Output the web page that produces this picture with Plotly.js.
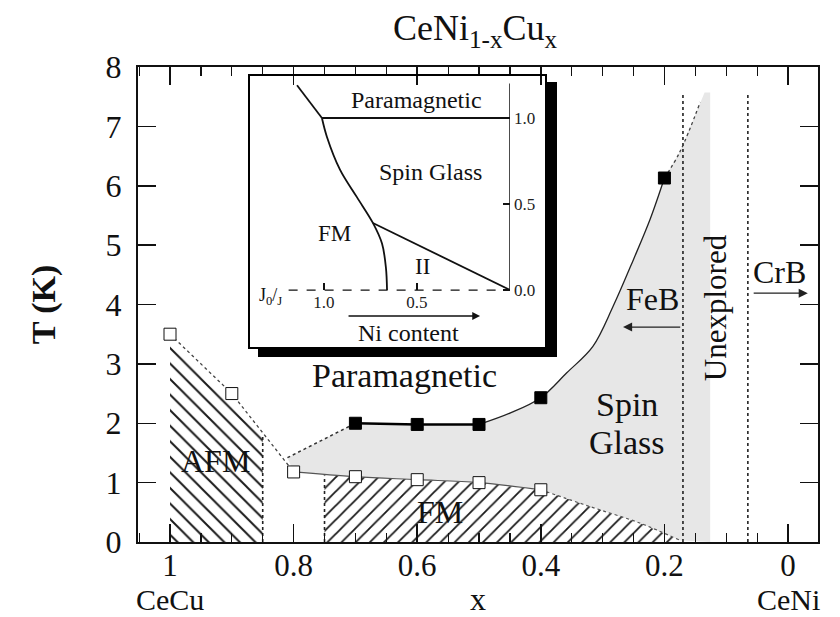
<!DOCTYPE html>
<html>
<head>
<meta charset="utf-8">
<script src="https://cdn.plot.ly/plotly-3.0.1.min.js"></script>
<style>html,body{margin:0;padding:0;background:#fff;}#chart{width:840px;height:617px;}</style>
</head>
<body>
<div id="chart"></div>
<script>
// ---------- main phase diagram data (x = Cu content, T in K) ----------
const openX   = [1.0, 0.9, 0.8, 0.7, 0.6, 0.5, 0.4];
const openT   = [3.5, 2.5, 1.18, 1.1, 1.05, 1.0, 0.88];
const filledX = [0.7, 0.6, 0.5, 0.4, 0.2];
const filledT = [2.0, 1.98, 1.98, 2.43, 6.13];

// spin-glass / paramagnetic boundary
const sgSolidX = [0.7, 0.6, 0.5];
const sgSolidT = [2.0, 1.98, 1.98];
const sgCurveX = [0.5, 0.45, 0.4, 0.358, 0.316, 0.283, 0.25, 0.223, 0.2];
const sgCurveT = [1.98, 2.17, 2.43, 2.85, 3.29, 3.97, 4.76, 5.44, 6.13];
const sgExtX   = [0.2, 0.175, 0.142];
const sgExtT   = [6.13, 6.57, 7.41];
const sgLeftX  = [0.81, 0.7];
const sgLeftT  = [1.42, 2.0];

// AFM / FM boundaries
const afmLineX = [1.0, 0.9, 0.8];
const afmLineT = [3.5, 2.5, 1.18];
const fmLineX  = [0.8, 0.7, 0.6, 0.5, 0.4];
const fmLineT  = [1.18, 1.1, 1.05, 1.0, 0.88];
const fmExtX   = [0.4, 0.35, 0.304, 0.24, 0.175];
const fmExtT   = [0.88, 0.7, 0.54, 0.32, 0.03];

// regions
const grayX = [0.81, 0.7, 0.6, 0.5, 0.45, 0.4, 0.358, 0.316, 0.283, 0.25, 0.223, 0.2, 0.175, 0.142, 0.135, 0.126, 0.126, 0.175, 0.24, 0.304, 0.35, 0.4, 0.5, 0.6, 0.7, 0.8, 0.81];
const grayT = [1.42, 2.0, 1.98, 1.98, 2.17, 2.43, 2.85, 3.29, 3.97, 4.76, 5.44, 6.13, 6.57, 7.41, 7.57, 7.57, 0, 0.03, 0.32, 0.54, 0.7, 0.88, 1.0, 1.05, 1.1, 1.18, 1.42];
const afmX = [1.0, 1.0, 0.9, 0.85, 0.85, 1.0];
const afmT = [0, 3.4, 2.42, 1.82, 0, 0];
const fmX  = [0.75, 0.75, 0.7, 0.6, 0.5, 0.4, 0.35, 0.304, 0.24, 0.175, 0.175, 0.75];
const fmT  = [0, 1.12, 1.1, 1.05, 1.0, 0.88, 0.7, 0.54, 0.32, 0.03, 0, 0];

// dotted vertical dividers
const dividerX   = [0.85, 0.75, 0.17, 0.065];
const dividerTop = [1.82, 1.12, 7.55, 7.55];

// x tick labels
const xTickVals = [1, 0.8, 0.6, 0.4, 0.2, 0];
const xTickText = ['1', '0.8', '0.6', '0.4', '0.2', '0'];

// ---------- inset data (J0/J vs T/J) ----------
const inTopX   = [1.145, 1.011];
const inTopT   = [1.19, 1.0];
const inFmX    = [1.011, 0.984, 0.914, 0.823, 0.737, 0.688, 0.667, 0.661];
const inFmT    = [1.0, 0.89, 0.70, 0.54, 0.39, 0.27, 0.13, 0.0];
const inParaX  = [1.011, 0];
const inParaT  = [1.0, 1.0];
const inIIX    = [0.737, 0];
const inIIT    = [0.39, 0];
const inAxisX  = [0, 0];
const inAxisT  = [0, 1.2];
const inBaseX  = [1.19, 0];
const inBaseT  = [0, 0];
const inYTicks = [0, 0.5, 1.0];
const inYText  = ['0.0', '0.5', '1.0'];
const inXTicks = [1.0, 0.5];
const inXText  = ['1.0', '0.5'];

const FONT = "Liberation Serif, Times New Roman, serif";

const traces = [];
traces.push({x: grayX, y: grayT, mode: 'lines', fill: 'toself', fillcolor: '#e7e7e7',
  line: {width: 0, color: 'rgba(0,0,0,0)'}, hoverinfo: 'skip', showlegend: false});
traces.push({x: afmX, y: afmT, mode: 'lines', fill: 'toself', fillcolor: 'white',
  fillpattern: {shape: '\\', size: 11, solidity: 0.18, fgcolor: '#1a1a1a', bgcolor: 'white'},
  line: {width: 0, color: 'rgba(0,0,0,0)'}, hoverinfo: 'skip', showlegend: false});
traces.push({x: fmX, y: fmT, mode: 'lines', fill: 'toself', fillcolor: 'white',
  fillpattern: {shape: '/', size: 10, solidity: 0.18, fgcolor: '#1a1a1a', bgcolor: 'white'},
  line: {width: 0, color: 'rgba(0,0,0,0)'}, hoverinfo: 'skip', showlegend: false});
dividerX.forEach((xv, i) => {
  traces.push({x: [xv, xv], y: [0, dividerTop[i]], mode: 'lines',
    line: {color: '#222', width: 1.6, dash: 'dot'}, hoverinfo: 'skip', showlegend: false});
});
function line(x, y, w, dash, col, shape) {
  traces.push({x: x, y: y, mode: 'lines', line: {color: col || '#111', width: w, dash: dash || 'solid', shape: shape || 'linear'},
    hoverinfo: 'skip', showlegend: false});
}
line(sgLeftX, sgLeftT, 1.5, 'dot', '#333');
line(sgSolidX, sgSolidT, 2.6, 'solid', '#000');
line(sgCurveX, sgCurveT, 1.3, 'solid', '#222', 'spline');
line(sgExtX, sgExtT, 1.3, 'dot', '#444', 'spline');
line(afmLineX, afmLineT, 1.3, 'dot', '#444');
line(fmLineX, fmLineT, 1.2, 'solid', '#555', 'spline');
line(fmExtX, fmExtT, 1.2, 'dot', '#555', 'spline');
traces.push({x: openX, y: openT, mode: 'markers', marker: {symbol: 'square', size: 12, color: 'white', line: {color: '#111', width: 1}},
  hoverinfo: 'skip', showlegend: false});
traces.push({x: filledX, y: filledT, mode: 'markers', marker: {symbol: 'square', size: 12, color: '#000', line: {color: '#000', width: 1}},
  hoverinfo: 'skip', showlegend: false});

// inset traces
function iline(x, y, w, dash, shape) {
  traces.push({x: x, y: y, xaxis: 'x2', yaxis: 'y2', mode: 'lines',
    line: {color: '#111', width: w, dash: dash || 'solid', shape: shape || 'linear'}, hoverinfo: 'skip', showlegend: false});
}
iline(inBaseX, inBaseT, 1.2, 'dash');
iline(inAxisX, inAxisT, 1.5);
iline(inTopX, inTopT, 1.8);
iline(inFmX, inFmT, 1.8, 'solid', 'spline');
iline(inParaX, inParaT, 1.8);
iline(inIIX, inIIT, 1.8);

const px = v => (v - 138) / 680;
const py = v => (542 - v) / 475;

const ann = [];
function txt(text, x, y, size, extra) {
  ann.push(Object.assign({text: text, x: x, y: y, xref: 'x', yref: 'y', showarrow: false,
    font: {family: FONT, size: size, color: '#111'}, xanchor: 'center', yanchor: 'middle'}, extra || {}));
}
txt('Paramagnetic', 0.62, 2.8, 34);
txt('Spin', 0.26, 2.31, 34);
txt('Glass', 0.26, 1.68, 34);
txt('AFM', 0.927, 1.36, 32);
txt('FM', 0.563, 0.5, 32);
txt('FeB', 0.22, 4.1, 32);
txt('CrB', 0.013, 4.55, 32);
txt('Unexplored', 0.118, 3.94, 31, {textangle: -90});
txt('CeCu', 1.0, -0.121, 30, {yref: 'paper'});
txt('CeNi', 0.0, -0.121, 30, {yref: 'paper'});
// arrows
ann.push({x: 0.267, y: 3.62, ax: 0.172, ay: 3.62, xref: 'x', yref: 'y', axref: 'x', ayref: 'y', text: '',
  showarrow: true, arrowhead: 2, arrowsize: 1.4, arrowwidth: 1.3, arrowcolor: '#222'});
ann.push({x: -0.032, y: 4.19, ax: 0.058, ay: 4.19, xref: 'x', yref: 'y', axref: 'x', ayref: 'y', text: '',
  showarrow: true, arrowhead: 2, arrowsize: 1.4, arrowwidth: 1.3, arrowcolor: '#222'});
// inset texts
function itxt(text, x, y, size) {
  ann.push({text: text, x: x, y: y, xref: 'x2', yref: 'y2', showarrow: false,
    font: {family: FONT, size: size, color: '#111'}, xanchor: 'center', yanchor: 'middle'});
}
itxt('Paramagnetic', 0.5, 1.105, 24);
itxt('Spin Glass', 0.43, 0.686, 24);
itxt('FM', 0.946, 0.331, 23);
itxt('II', 0.473, 0.134, 23);
itxt('Ni content', 0.548, -0.25, 24);
itxt('J<sub>0</sub>/<sub>J</sub>', 1.29, -0.04, 18);
itxt('T/<sub>J</sub>', -0.105, 0.756, 21);
ann.push({x: 0.161, y: -0.151, ax: 0.876, ay: -0.151, xref: 'x2', yref: 'y2', axref: 'x2', ayref: 'y2', text: '',
  showarrow: true, arrowhead: 2, arrowsize: 1.2, arrowwidth: 1.3, arrowcolor: '#111'});

const shapes = [
  {type: 'rect', xref: 'paper', yref: 'paper', x0: px(249), x1: px(546), y0: py(348), y1: py(75),
    line: {color: '#000', width: 2}, fillcolor: 'rgba(0,0,0,0)', layer: 'above'},
  {type: 'rect', xref: 'paper', yref: 'paper', x0: px(546), x1: px(557), y0: py(357), y1: py(82),
    line: {width: 0}, fillcolor: '#000', layer: 'above'},
  {type: 'rect', xref: 'paper', yref: 'paper', x0: px(258), x1: px(557), y0: py(357), y1: py(348),
    line: {width: 0}, fillcolor: '#000', layer: 'above'}
];

const layout = {
  width: 840, height: 617,
  margin: {l: 138, r: 22, t: 67, b: 75, pad: 0},
  paper_bgcolor: 'white', plot_bgcolor: 'rgba(0,0,0,0)',
  showlegend: false,
  font: {family: FONT, color: '#111'},
  title: {text: 'CeNi<sub>1-x</sub>Cu<sub>x</sub>', x: 0.5655, xanchor: 'center', y: 0.955, yanchor: 'middle',
    font: {family: FONT, size: 36, color: '#111'}},
  xaxis: {range: [1.0518, -0.0485], tickvals: xTickVals, ticktext: xTickText, ticks: 'inside', ticklen: 18, tickwidth: 1.5,
    tickcolor: '#111', minor: {dtick: 0.05, tick0: 0, ticks: 'inside', ticklen: 9, tickwidth: 1.2, tickcolor: '#111'},
    showline: true, linewidth: 2, linecolor: '#111', mirror: 'ticks', showgrid: false, zeroline: false,
    tickfont: {family: FONT, size: 31, color: '#111'}, ticklabelstandoff: -5,
    title: {text: 'x', font: {family: FONT, size: 32, color: '#111'}, standoff: 8}},
  yaxis: {range: [0, 8], dtick: 1, tick0: 0, ticks: 'inside', ticklen: 18, tickwidth: 1.5, tickcolor: '#111',
    showline: true, linewidth: 2, linecolor: '#111', mirror: 'ticks', showgrid: false, zeroline: false,
    tickfont: {family: FONT, size: 32, color: '#111'}, ticklabelstandoff: 8,
    title: {text: 'T (K)', font: {family: FONT, size: 34, color: '#111', weight: 'bold'}, standoff: 40}},
  xaxis2: {domain: [px(249), px(510)], range: [1.403, 0], anchor: 'free', position: py(290),
    tickvals: inXTicks, ticktext: inXText, ticks: 'inside', ticklen: 7, tickwidth: 1.2, tickcolor: '#111',
    showline: false, showgrid: false, zeroline: false, tickfont: {family: FONT, size: 17, color: '#222'}, ticklabelstandoff: 0},
  yaxis2: {domain: [py(348), py(75)], range: [-0.337, 1.25], anchor: 'x2', side: 'right',
    tickvals: inYTicks, ticktext: inYText, ticks: 'inside', ticklen: 7, tickwidth: 1.2, tickcolor: '#111',
    showline: false, showgrid: false, zeroline: false, tickfont: {family: FONT, size: 17, color: '#222'}, ticklabelstandoff: 3},
  annotations: ann,
  shapes: shapes
};

Plotly.newPlot('chart', traces, layout, {staticPlot: true, displayModeBar: false});
</script>
</body>
</html>
